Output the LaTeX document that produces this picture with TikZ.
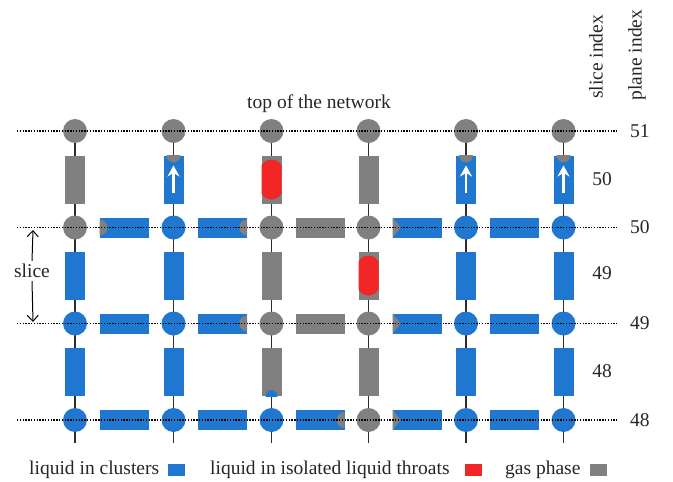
\documentclass[tikz,border=0pt]{standalone}
\usepackage{fontspec}
\setmainfont{Liberation Serif}
\usetikzlibrary{arrows.meta,backgrounds}
\definecolor{liqblue}{RGB}{31,119,207}
\definecolor{gasgray}{RGB}{128,128,128}
\definecolor{isored}{RGB}{242,38,38}
\definecolor{stemgray}{RGB}{45,45,45}
\newcommand\mycapL[2]{\begin{scope}\clip (#1.south west) rectangle (#1.north east); \fill[#2] (#1.west) circle (8pt);\end{scope}}
\newcommand\mycapR[2]{\begin{scope}\clip (#1.south west) rectangle (#1.north east); \fill[#2] (#1.east) circle (8pt);\end{scope}}
\newcommand\mycapT[2]{\begin{scope}\clip (#1.south west) rectangle (#1.north east); \fill[#2] (#1.north) circle (7pt);\end{scope}}
\newcommand\mycapB[2]{\begin{scope}\clip (#1.south west) rectangle (#1.north east); \fill[#2] (#1.south) circle (6pt);\end{scope}}
\newcommand\mycapTri[1]{\fill[gasgray] (#1.north west) -- ([xshift=8pt]#1.west) -- (#1.south west) -- cycle;}
\newcommand\myuparrow[1]{\draw[white, line width=2.8pt, -{Stealth[length=11pt,width=12pt]}] ([yshift=-13pt]#1.center) -- ([yshift=14pt]#1.center);}
\newcommand\myredfill[1]{\begin{scope}[shift={(#1.center)}]
  \fill[isored] (-10,-14) .. controls (-5,-22) and (5,-22) .. (10,-14) -- (10,14) .. controls (5,22) and (-5,22) .. (-10,14) -- cycle;
\end{scope}}
\begin{document}
\begin{tikzpicture}[x=1pt,y=-1pt,
  pore/.style={circle, minimum size=24pt, inner sep=0pt, draw=none},
  vthroat/.style={rectangle, minimum width=20pt, minimum height=48pt, inner sep=0pt, draw=none},
  hthroat/.style={rectangle, minimum width=49pt, minimum height=20pt, inner sep=0pt, draw=none},
  rowline/.style={line width=1.3pt, dash pattern=on 1.3pt off 1.5pt, black},
  stem/.style={line width=1.5pt, stemgray},
  lbl/.style={font=\fontsize{19.5}{23}\selectfont, inner sep=0pt, text=black!85},
  legsq/.style={rectangle, minimum width=17pt, minimum height=12pt, inner sep=0pt, draw=none}]
\useasboundingbox (0,0) rectangle (673,482);

% pores
\foreach \c/\x/\col in {1/75/gasgray,2/173.5/gasgray,3/271.5/gasgray,4/368.5/gasgray,5/466/gasgray,6/563.5/gasgray}
  \node[pore, fill=\col] (p\c51) at (\x,131) {};
\foreach \c/\x/\col in {1/75/gasgray,2/173.5/liqblue,3/271.5/gasgray,4/368.5/gasgray,5/466/liqblue,6/563.5/liqblue}
  \node[pore, fill=\col] (p\c50) at (\x,227.5) {};
\foreach \c/\x/\col in {1/75/liqblue,2/173.5/liqblue,3/271.5/gasgray,4/368.5/gasgray,5/466/liqblue,6/563.5/liqblue}
  \node[pore, fill=\col] (p\c49) at (\x,323.5) {};
\foreach \c/\x/\col in {1/75/liqblue,2/173.5/liqblue,3/271.5/liqblue,4/368.5/gasgray,5/466/liqblue,6/563.5/liqblue}
  \node[pore, fill=\col] (p\c48) at (\x,420) {};

% vertical throats
\foreach \c/\x/\col in {1/75/gasgray,2/173.5/liqblue,3/271.5/gasgray,4/368.5/gasgray,5/466/liqblue,6/563.5/liqblue}
  \node[vthroat, fill=\col] (v\c50) at (\x,179.5) {};
\foreach \c/\x/\col in {1/75/liqblue,2/173.5/liqblue,3/271.5/gasgray,4/368.5/gasgray,5/466/liqblue,6/563.5/liqblue}
  \node[vthroat, fill=\col] (v\c49) at (\x,275.5) {};
\foreach \c/\x/\col in {1/75/liqblue,2/173.5/liqblue,3/271.5/gasgray,4/368.5/gasgray,5/466/liqblue,6/563.5/liqblue}
  \node[vthroat, fill=\col] (v\c48) at (\x,372) {};

% horizontal throats
\foreach \c/\x/\col in {1/124.25/liqblue,2/222.5/liqblue,3/320/gasgray,4/417.25/liqblue,5/514.75/liqblue}
  \node[hthroat, fill=\col] (h\c50) at (\x,227.5) {};
\foreach \c/\x/\col in {1/124.25/liqblue,2/222.5/liqblue,3/320/gasgray,4/417.25/liqblue,5/514.75/liqblue}
  \node[hthroat, fill=\col] (h\c49) at (\x,323.5) {};
\foreach \c/\x/\col in {1/124.25/liqblue,2/222.5/liqblue,3/320/liqblue,4/417.25/liqblue,5/514.75/liqblue}
  \node[hthroat, fill=\col] (h\c48) at (\x,420) {};

% stems behind
\foreach \c/\x in {1/75,2/173.5,3/271.5,4/368.5,5/466,6/563.5}{
  \coordinate (b\c) at (\x,443);
  \begin{pgfonlayer}{background}
    \draw[stem] (p\c51) -- (p\c48) -- (b\c);
  \end{pgfonlayer}
}

% menisci / partial phases
\myredfill{v350}
\myredfill{v449}
\mycapT{v250}{gasgray}
\mycapT{v550}{gasgray}
\mycapT{v650}{gasgray}
\mycapB{v348}{liqblue}
\mycapL{h150}{gasgray}
\mycapR{h250}{gasgray}
\mycapTri{h450}
\mycapR{h249}{gasgray}
\mycapTri{h449}
\mycapR{h348}{gasgray}
\mycapTri{h448}
\myuparrow{v250}
\myuparrow{v550}
\myuparrow{v650}

% dotted plane lines
\foreach \r/\y in {51/131,50/227.5,49/323.5,48/420}{
  \coordinate (L\r) at (17,\y);
  \coordinate (R\r) at (617,\y);
  \draw[rowline] (L\r) -- (R\r);
  \node[lbl, anchor=west] (n\r) at (630,\y) {\r};
}

% slice labels
\node[lbl] (s50) at (602,179) {50};
\node[lbl] (s49) at (602,273) {49};
\node[lbl] (s48) at (602,371) {48};

% header labels
\node[lbl, anchor=base] (top) at (319,108) {top of the network};
\node[lbl, rotate=90] (sidx) at (596,57) {slice index};
\node[lbl, rotate=90] (pidx) at (637,55) {plane index};

% slice arrow
\node[lbl, inner sep=3pt] (slc) at (32,271) {slice};
\coordinate (sTop) at (33,230);
\coordinate (sBot) at (33,322);
\draw[line width=1pt, -{Straight Barb[length=6pt,width=11pt]}] (slc.north) -- (sTop);
\draw[line width=1pt, -{Straight Barb[length=6pt,width=11pt]}] (slc.south) -- (sBot);

% legend
\node[lbl, anchor=base west] (lg1) at (29,474) {liquid in clusters};
\node[legsq, fill=liqblue] (sq1) at (176.5,469.5) {};
\node[lbl, anchor=base west] (lg2) at (210,474) {liquid in isolated liquid throats};
\node[legsq, fill=isored] (sq2) at (473.5,469.5) {};
\node[lbl, anchor=base west] (lg3) at (505,474) {gas phase};
\node[legsq, fill=gasgray] (sq3) at (598,469.5) {};
\end{tikzpicture}
\end{document}
